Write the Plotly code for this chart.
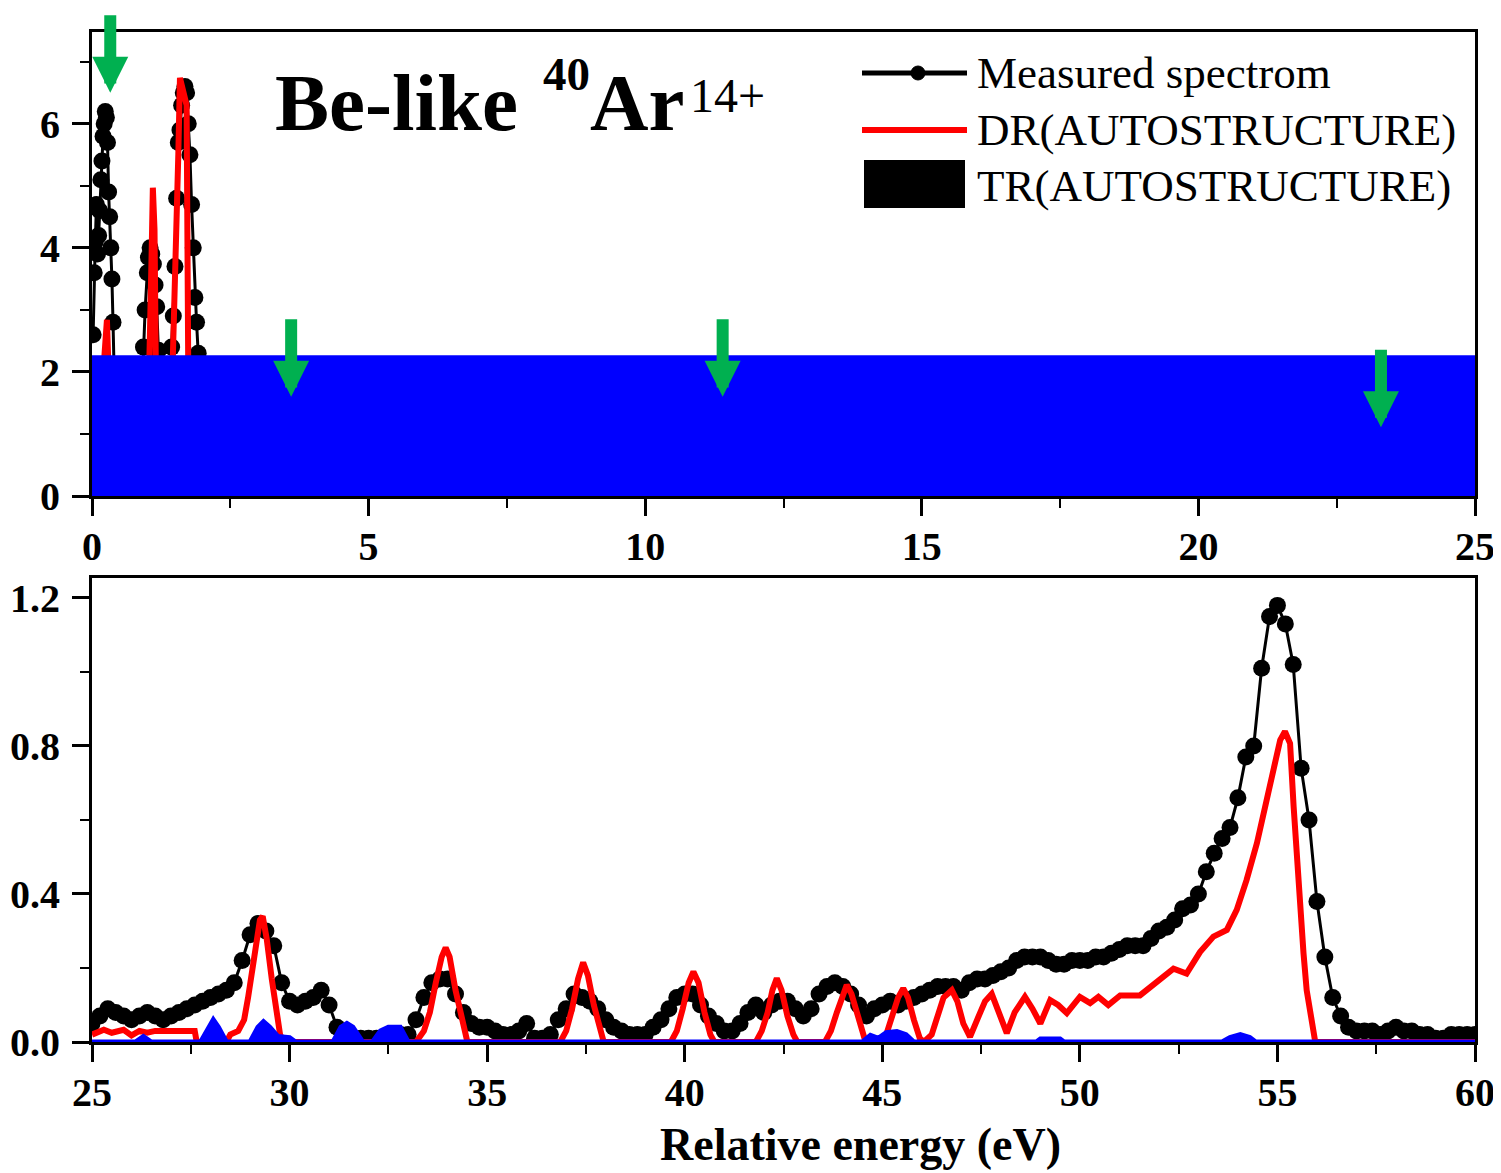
import plotly.graph_objects as go

# ---------------- data ----------------
# Top panel (0-25 eV)
meas_top_x = [0.02, 0.04, 0.06, 0.08, 0.10, 0.12, 0.14, 0.16, 0.18, 0.20, 0.22, 0.24, 0.26, 0.28,
              0.30, 0.32, 0.34, 0.36, 0.38, 0.40, 0.50, 0.70, 0.90, 0.93, 0.96, 1.00, 1.02, 1.05,
              1.08, 1.11, 1.14, 1.17, 1.20, 1.30, 1.40, 1.44, 1.47, 1.50, 1.53, 1.56, 1.59, 1.62,
              1.65, 1.68, 1.71, 1.74, 1.77, 1.80, 1.83, 1.86, 1.89, 1.92, 2.00]
meas_top_y = [2.6, 3.6, 4.1, 4.7, 3.9, 4.2, 4.6, 5.1, 5.4, 5.8, 6.0, 6.2, 6.1, 5.7,
              4.9, 4.5, 4.0, 3.5, 2.8, 2.0, 1.2, 0.9, 1.6, 2.4, 3.0, 3.6, 3.85, 4.0,
              3.9, 3.74, 3.4, 3.05, 2.35, 1.2, 1.6, 2.4, 2.9, 3.7, 4.8, 5.7, 5.9, 6.3,
              6.5, 6.6, 6.5, 6.0, 5.5, 4.7, 4.0, 3.2, 2.8, 2.3, 1.5]

dr_top_x = [0.0, 0.15, 0.22, 0.27, 0.30, 0.33, 0.90, 1.02, 1.08, 1.10, 1.13, 1.16, 1.20,
            1.40, 1.46, 1.50, 1.56, 1.59, 1.66, 1.71, 1.74, 1.80, 2.50, 25.0]
dr_top_y = [0.0, 1.0, 2.2, 2.84, 2.0, 0.5, 0.3, 1.5, 4.0, 4.97, 4.3, 1.5, 0.4,
            0.5, 2.2, 3.3, 5.5, 6.74, 6.5, 6.3, 2.0, 0.3, 0.1, 0.0]

tr_top_x = [0.0, 25.0]
tr_top_y = [2.27, 2.27]

arrow_x = [0.33, 3.6, 11.4, 23.3]
arrow_y = [6.5, 1.6, 1.6, 1.11]

# Bottom panel (25-60 eV), measured on a 0.2 eV grid starting at 25.0 eV
meas_bot_start = 25.0
meas_bot_step = 0.2
meas_bot_y = [
    0.05, 0.07, 0.09, 0.08, 0.07, 0.06, 0.07, 0.08, 0.07, 0.06,   # 25.0-26.8
    0.07, 0.08, 0.09, 0.10, 0.11, 0.12, 0.13, 0.14, 0.16, 0.22,   # 27.0-28.8
    0.29, 0.32, 0.30, 0.26, 0.16, 0.11, 0.10, 0.11, 0.12, 0.14,   # 29.0-30.8
    0.10, 0.04, 0.02, 0.01, 0.01, 0.01, 0.01, 0.01, 0.01, 0.02,   # 31.0-32.8
    0.02, 0.06, 0.12, 0.16, 0.17, 0.17, 0.13, 0.08, 0.05, 0.04,   # 33.0-34.8
    0.04, 0.03, 0.02, 0.02, 0.03, 0.05, 0.01, 0.01, 0.02, 0.06,   # 35.0-36.8
    0.09, 0.13, 0.12, 0.11, 0.09, 0.06, 0.04, 0.03, 0.02, 0.02,   # 37.0-38.8
    0.02, 0.04, 0.06, 0.09, 0.12, 0.13, 0.13, 0.10, 0.07, 0.05,   # 39.0-40.8
    0.03, 0.03, 0.05, 0.08, 0.10, 0.08, 0.10, 0.11, 0.11, 0.09,   # 41.0-42.8
    0.07, 0.09, 0.13, 0.15, 0.16, 0.15, 0.13, 0.10, 0.07, 0.09,   # 43.0-44.8
    0.10, 0.11, 0.10, 0.11, 0.12, 0.13, 0.14, 0.15, 0.15, 0.15,   # 45.0-46.8
    0.14, 0.16, 0.17, 0.17, 0.18, 0.19, 0.20, 0.22, 0.23, 0.23,   # 47.0-48.8
    0.23, 0.22, 0.21, 0.21, 0.22, 0.22, 0.22, 0.23, 0.23, 0.24,   # 49.0-50.8
    0.25, 0.26, 0.26, 0.26, 0.28, 0.30, 0.31, 0.33, 0.36, 0.37,   # 51.0-52.8
    0.40, 0.46, 0.51, 0.55, 0.58, 0.66, 0.77, 0.80, 1.01, 1.15,   # 53.0-54.8
    1.18, 1.13, 1.02, 0.74, 0.60, 0.38, 0.23, 0.12, 0.07, 0.04,   # 55.0-56.8
    0.03, 0.03, 0.03, 0.02, 0.03, 0.04, 0.03, 0.03, 0.02, 0.02,   # 57.0-58.8
    0.01, 0.01, 0.02, 0.02, 0.02, 0.02]                            # 59.0-60.0
meas_bot_x = [round(meas_bot_start + meas_bot_step * i, 2) for i in range(len(meas_bot_y))]

dr_bot_x = [25.0, 25.3, 25.5, 25.8, 26.0, 26.2, 26.4, 26.6, 27.6, 27.65, 28.4, 28.5, 28.7,
            28.85, 28.95, 29.05, 29.15, 29.25, 29.32, 29.42, 29.55, 29.67, 29.76, 29.85,
            33.2, 33.4, 33.55, 33.7, 33.85, 33.95, 34.05, 34.2, 34.35, 34.5,
            36.85, 37.0, 37.15, 37.3, 37.43, 37.55, 37.7, 37.85, 37.95,
            39.65, 39.8, 39.95, 40.1, 40.22, 40.35, 40.5, 40.65, 40.75,
            41.8, 41.95, 42.1, 42.22, 42.33, 42.45, 42.6, 42.75, 42.85,
            43.55, 43.7, 43.85, 44.0, 44.1, 44.22, 44.4, 44.55, 44.65,
            45.0, 45.1, 45.25, 45.4, 45.53, 45.65, 45.8, 45.95, 46.05,
            46.25, 46.4, 46.55, 46.76, 46.9, 47.05, 47.22, 47.4, 47.6, 47.77, 47.95,
            48.15, 48.35, 48.61, 48.8, 49.0, 49.25, 49.45, 49.67, 50.0, 50.26, 50.47,
            50.72, 51.02, 51.52, 51.95, 52.37, 52.7, 53.04, 53.38, 53.72, 53.97, 54.22,
            54.48, 54.73, 54.90, 55.07, 55.19, 55.32, 55.41, 55.49, 55.57, 55.66, 55.74,
            55.83, 55.95, 56.0, 60.0]
dr_bot_y = [0.02, 0.033, 0.025, 0.033, 0.018, 0.03, 0.025, 0.03, 0.03, 0.0, 0.0, 0.02, 0.03,
            0.06, 0.12, 0.20, 0.28, 0.33, 0.34, 0.28, 0.17, 0.09, 0.02, 0.0,
            0.0, 0.03, 0.08, 0.16, 0.23, 0.255, 0.23, 0.14, 0.06, 0.0,
            0.0, 0.03, 0.09, 0.17, 0.215, 0.18, 0.10, 0.03, 0.0,
            0.0, 0.03, 0.09, 0.16, 0.19, 0.16, 0.08, 0.02, 0.0,
            0.0, 0.03, 0.08, 0.14, 0.172, 0.14, 0.07, 0.02, 0.0,
            0.0, 0.03, 0.08, 0.13, 0.154, 0.13, 0.06, 0.01, 0.0,
            0.0, 0.02, 0.07, 0.12, 0.145, 0.12, 0.06, 0.01, 0.0,
            0.02, 0.07, 0.12, 0.14, 0.11, 0.05, 0.014, 0.06, 0.11, 0.13, 0.08,
            0.024, 0.08, 0.122, 0.09, 0.05, 0.113, 0.10, 0.078, 0.122, 0.105, 0.122,
            0.10, 0.126, 0.126, 0.162, 0.198, 0.185, 0.243, 0.285, 0.303, 0.357, 0.438,
            0.537, 0.654, 0.744, 0.816, 0.839, 0.807, 0.636, 0.50, 0.366, 0.24, 0.14,
            0.078, 0.005, 0.0, 0.0]

tr_bot_x = [25.0, 26.1, 26.3, 26.5, 27.75, 27.95, 28.07, 28.2, 28.4, 29.0, 29.2, 29.34, 29.5,
            29.7, 30.0, 30.15, 31.1, 31.3, 31.45, 31.6, 31.85, 32.1, 32.3, 32.5, 32.8, 33.0,
            44.5, 44.7, 44.9, 45.1, 45.37, 45.6, 45.8, 48.9, 49.0, 49.5, 49.6,
            53.6, 53.8, 54.06, 54.3, 54.45, 60.0]
tr_bot_y = [0.0, 0.0, 0.015, 0.0, 0.0, 0.04, 0.06, 0.04, 0.0, 0.0, 0.04, 0.055, 0.04,
            0.015, 0.012, 0.0, 0.0, 0.04, 0.05, 0.04, 0.0, 0.0, 0.03, 0.04, 0.04, 0.0,
            0.0, 0.018, 0.01, 0.025, 0.028, 0.02, 0.0, 0.0, 0.008, 0.008, 0.0,
            0.0, 0.012, 0.02, 0.012, 0.0, 0.0]

top_xticks = [0, 5, 10, 15, 20, 25]
top_yticks = [0, 2, 4, 6]
bot_xticks = [25, 30, 35, 40, 45, 50, 55, 60]
bot_yticks = [0.0, 0.4, 0.8, 1.2]

legend_labels = ["Measured spectrom", "DR(AUTOSTRUCTURE)", "TR(AUTOSTRUCTURE)"]

# ---------------- layout helpers ----------------
# The page body has an 8 px default margin, so the figure is drawn 8 px in from the top-left.
OFF = 8
W, H = 1501 - OFF, 1173 - OFF
X0, X1 = 92, 1475      # plot area left/right in window pixels
YTOP, YBOT = 32, 1042  # plot area top/bottom in window pixels
ML = X0 - OFF
MR = 1501 - X1
MT = YTOP - OFF
MB = 1173 - YBOT
PW = X1 - X0
PH = YBOT - YTOP
FONT = "Liberation Serif, Times New Roman, serif"
BLUE = "#0000FF"
RED = "#FF0000"
GREEN = "#00B050"


def px(xp):
    return (xp - X0) / PW


def py(yp):
    return (YBOT - yp) / PH


fig = go.Figure()

# top panel
fig.add_trace(go.Scatter(x=meas_top_x, y=meas_top_y, mode="lines+markers", xaxis="x", yaxis="y",
                         line=dict(color="black", width=3), marker=dict(color="black", size=17),
                         showlegend=False))
fig.add_trace(go.Scatter(x=dr_top_x, y=dr_top_y, mode="lines", xaxis="x", yaxis="y",
                         line=dict(color=RED, width=6), showlegend=False))
fig.add_trace(go.Scatter(x=tr_top_x, y=tr_top_y, mode="lines", fill="tozeroy", xaxis="x", yaxis="y",
                         fillcolor=BLUE, line=dict(color=BLUE, width=0), showlegend=False))

# bottom panel
fig.add_trace(go.Scatter(x=meas_bot_x, y=meas_bot_y, mode="lines+markers", xaxis="x2", yaxis="y2",
                         line=dict(color="black", width=3), marker=dict(color="black", size=17),
                         showlegend=False))
fig.add_trace(go.Scatter(x=dr_bot_x, y=dr_bot_y, mode="lines", xaxis="x2", yaxis="y2",
                         line=dict(color=RED, width=6), showlegend=False))
fig.add_trace(go.Scatter(x=tr_bot_x, y=tr_bot_y, mode="lines", fill="tozeroy", xaxis="x2", yaxis="y2",
                         fillcolor=BLUE, line=dict(color=BLUE, width=5), showlegend=False))

tickfont = dict(family=FONT, size=40, color="black", weight="bold")
common = dict(showline=True, linecolor="black", linewidth=3, mirror=True, ticks="outside",
              ticklen=17, tickwidth=3, tickcolor="black", tickfont=tickfont, showgrid=False,
              zeroline=False, automargin=False)
xstand = dict(ticklabelstandoff=-4)
ystand = dict(ticklabelstandoff=4)

fig.update_layout(
    width=W, height=H, margin=dict(l=ML, r=MR, t=MT, b=MB, autoexpand=False),
    paper_bgcolor="white", plot_bgcolor="white",
    xaxis=dict(domain=[0, 1], anchor="y", range=[0, 25], tickvals=top_xticks,
               minor=dict(dtick=2.5, ticks="outside", ticklen=9, tickwidth=2, tickcolor="black"),
               **common, **xstand),
    yaxis=dict(domain=[py(496), 1], anchor="x", range=[0, 7.48], tickvals=top_yticks,
               minor=dict(dtick=1, ticks="outside", ticklen=9, tickwidth=2, tickcolor="black"),
               **common, **ystand),
    xaxis2=dict(domain=[0, 1], anchor="y2", range=[25, 60], tickvals=bot_xticks,
                minor=dict(dtick=2.5, ticks="outside", ticklen=9, tickwidth=2, tickcolor="black"),
                **common, **xstand),
    yaxis2=dict(domain=[0, py(578)], anchor="x2", range=[0, 1.254], tickvals=bot_yticks,
                tickformat=".1f",
                minor=dict(dtick=0.2, ticks="outside", ticklen=9, tickwidth=2, tickcolor="black"),
                **common, **ystand),
)

annotations = []
# green arrows
for ax_, ay_ in zip(arrow_x, arrow_y):
    annotations.append(dict(x=ax_, y=ay_, xref="x", yref="y", text="", showarrow=True,
                            ax=0, ay=-79, arrowhead=2, arrowsize=0.6, arrowwidth=12,
                            arrowcolor=GREEN, standoff=0))

# title pieces
annotations += [
    dict(x=px(273), y=py(103), xref="paper", yref="paper", xanchor="left", yanchor="middle",
         text="Be-like", showarrow=False,
         font=dict(family=FONT, size=81, color="black", weight="bold")),
    dict(x=px(541), y=py(74), xref="paper", yref="paper", xanchor="left", yanchor="middle",
         text="40", showarrow=False,
         font=dict(family=FONT, size=47, color="black", weight="bold")),
    dict(x=px(588), y=py(103), xref="paper", yref="paper", xanchor="left", yanchor="middle",
         text="Ar", showarrow=False,
         font=dict(family=FONT, size=81, color="black", weight="bold")),
    dict(x=px(688), y=py(96), xref="paper", yref="paper", xanchor="left", yanchor="middle",
         text="14+", showarrow=False,
         font=dict(family=FONT, size=48, color="black")),
]

# legend text
for label, yp in zip(legend_labels, [73, 130, 186]):
    annotations.append(dict(x=px(975), y=py(yp), xref="paper", yref="paper", xanchor="left",
                            yanchor="middle", text=label, showarrow=False,
                            font=dict(family=FONT, size=45, color="black")))

# x axis title
annotations.append(dict(x=px(860), y=py(1144), xref="paper", yref="paper", xanchor="center",
                        yanchor="middle", text="Relative energy (eV)", showarrow=False,
                        font=dict(family=FONT, size=46, color="black", weight="bold")))

shapes = [
    dict(type="line", xref="paper", yref="paper", x0=px(862), x1=px(967), y0=py(73), y1=py(73),
         line=dict(color="black", width=5)),
    dict(type="circle", xref="paper", yref="paper", x0=px(911), x1=px(925), y0=py(80), y1=py(66),
         fillcolor="black", line=dict(color="black", width=1)),
    dict(type="line", xref="paper", yref="paper", x0=px(862), x1=px(967), y0=py(130), y1=py(130),
         line=dict(color=RED, width=6)),
    dict(type="rect", xref="paper", yref="paper", x0=px(864), x1=px(965), y0=py(208), y1=py(160),
         fillcolor="black", line=dict(color="black", width=0)),
]

fig.update_layout(annotations=annotations, shapes=shapes)

fig.write_html("out.html")
